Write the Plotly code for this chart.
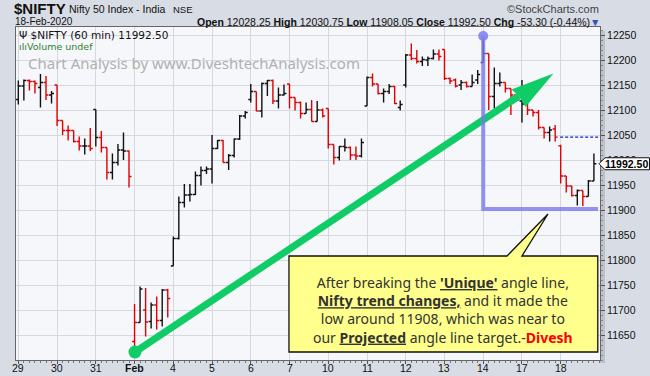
import plotly.graph_objects as go

# ---------------- data (60-min bars, 7 per session) ----------------
days = ['29', '30', '31', 'Feb', '4', '5', '6', '7', '10', '11', '12', '13', '14', '17', '18']
bars_per_day = 7

opens = [12121, 12148, 12159, 12157, 12145, 12155, 12130,
         12150, 12079, 12059, 12059, 12037, 12028, 12028,
         12101, 12045, 12025, 11975, 11995, 12020, 12018,
         11637, 11675, 11700, 11677, 11710, 11679, 11740,
         11788, 11843, 11915, 11930, 11931, 11969, 11979,
         11982, 12023, 12039, 11995, 12009, 12042, 12088,
         12121, 12137, 12098, 12153, 12159, 12118, 12130,
         12152, 12125, 12115, 12093, 12101, 12077, 12100,
         12103, 12031, 12005, 12027, 12025, 12010, 12008,
         12108, 12165, 12152, 12133, 12137, 12147, 12105,
         12150, 12210, 12203, 12197, 12200, 12203, 12212,
         12221, 12163, 12160, 12150, 12155, 12147, 12160,
         12195, 12213, 12127, 12153, 12155, 12143, 12130,
         12118, 12117, 12100, 12095, 12065, 12055, 12062,
         12028.25, 11968, 11948, 11929, 11939, 11927, 11958]
highs = [12159, 12161, 12161, 12159, 12172, 12168, 12138,
         12150, 12079, 12069, 12059, 12047, 12043, 12064,
         12101, 12058, 12025, 12013, 12032, 12055, 12019,
         11712, 11747, 11744, 11715, 11727, 11742, 11742,
         11847, 11927, 11952, 11952, 11977, 11987, 11987,
         12050, 12040, 12040, 12012, 12043, 12090, 12098,
         12152, 12137, 12155, 12160, 12161, 12145, 12151,
         12152, 12125, 12117, 12115, 12120, 12118, 12103,
         12103, 12031, 12028, 12043, 12027, 12027, 12043,
         12167, 12173, 12152, 12143, 12152, 12148, 12119,
         12212, 12233, 12220, 12207, 12207, 12221, 12221,
         12221, 12165, 12163, 12160, 12157, 12171, 12180,
         12247, 12213, 12185, 12175, 12155, 12143, 12133,
         12160, 12117, 12100, 12100, 12065, 12067, 12070,
         12030.75, 11968, 11948, 11941, 11939, 11960, 12013]
lows = [12111, 12119, 12139, 12133, 12105, 12120, 12113,
        12068, 12050, 12039, 12035, 12019, 12011, 12018,
        12027, 12015, 11961, 11961, 11989, 12000, 11945,
        11622, 11675, 11647, 11663, 11661, 11667, 11685,
        11788, 11841, 11905, 11917, 11930, 11949, 11972,
        11953, 12022, 11995, 11980, 12005, 12040, 12083,
        12115, 12098, 12085, 12128, 12112, 12103, 12129,
        12103, 12099, 12083, 12093, 12077, 12077, 12085,
        12023, 11991, 11999, 12017, 12000, 12000, 12005,
        12108, 12147, 12131, 12115, 12132, 12112, 12099,
        12145, 12200, 12193, 12188, 12188, 12201, 12199,
        12160, 12152, 12145, 12140, 12145, 12147, 12152,
        12195, 12100, 12103, 12147, 12135, 12090, 12117,
        12075, 12090, 12087, 12061, 12043, 12037, 12037,
        11953, 11935, 11927, 11909, 11908.05, 11927, 11958]
closes = [12148, 12159, 12157, 12153, 12155, 12130, 12133,
          12079, 12059, 12059, 12037, 12028, 12028, 12023,
          12045, 12025, 11975, 11995, 12020, 12018, 11967,
          11675, 11742, 11676, 11710, 11679, 11740, 11723,
          11843, 11915, 11930, 11931, 11969, 11979, 11982,
          12023, 12039, 11995, 12009, 12042, 12088, 12095,
          12137, 12098, 12153, 12159, 12118, 12130, 12133,
          12125, 12115, 12093, 12101, 12077, 12100, 12088,
          12031, 12005, 12027, 12025, 12010, 12008, 12035,
          12165, 12152, 12133, 12137, 12147, 12113, 12111,
          12210, 12203, 12197, 12201, 12203, 12212, 12207,
          12163, 12158, 12148, 12155, 12147, 12155, 12171,
          12213, 12127, 12153, 12155, 12143, 12130, 12120,
          12112, 12100, 12095, 12065, 12055, 12060, 12045.8,
          11968, 11948, 11929, 11939, 11927, 11958, 11992.5]
bar_colors = list("kkrrkrk" "rrrrrkr" "krrkkkr" "rkrkrkr" "kkkkkkk" "kkrkkkk"
                  "krkkrkk" "rrrkrkr" "rrkkrrk" "krrkkrk" "krrkkkr" "rrrkrkk"
                  "krkkrrr" "krrrrkr" "rrrkrkk")

y_ticks = [11650, 11700, 11750, 11800, 11850, 11900, 11950,
           12000, 12050, 12100, 12150, 12200, 12250]

prev_close = 12045.8
last_close = 11992.5
high_level = 12248
target_level = 11902

# annotation geometry in chart units (bar index, price)
arrow_start = (21.08, 11616)
arrow_notch = (90.46, 12128)
arrow_tip = (96.69, 12173)
arrow_barb1 = (89.1, 12141)
arrow_barb2 = (91.63, 12106)
box_x0, box_x1, box_y0, box_y1 = 48.9, 104.7, 11616, 11808
wedge = [(88.3, 11808), (95.7, 11892), (91.0, 11808)]

# ---------------- figure ----------------
W, H = 650, 376
PL, PR, PT, PB = 16, 600, 27, 360
X0, X1 = -0.42, 105.1
Y0, Y1 = 12250 - 2 * (PB - 35), 12250 - 2 * (PT - 35)


def fx(px):
    return (px - PL) / (PR - PL)


def fy(py):
    return (PB - py) / (PB - PT)


fig = go.Figure()
xs = list(range(len(opens)))
for key, col in (('k', '#111111'), ('r', '#e00000')):
    ids = [i for i, c in enumerate(bar_colors) if c == key]
    fig.add_trace(go.Ohlc(
        x=[xs[i] for i in ids], open=[opens[i] for i in ids], high=[highs[i] for i in ids],
        low=[lows[i] for i in ids], close=[closes[i] for i in ids],
        increasing=dict(line=dict(color=col, width=1.4)),
        decreasing=dict(line=dict(color=col, width=1.4)),
        tickwidth=0.45, hoverinfo='skip', showlegend=False))

# previous close dotted line
fig.add_trace(go.Scatter(x=[bars_per_day * 14 - 0.1, X1], y=[prev_close, prev_close], mode='lines',
                         line=dict(color='#1020d0', width=1.2, dash='3px,2px'),
                         hoverinfo='skip', showlegend=False))

# green arrow shaft + start dot
fig.add_trace(go.Scatter(x=[arrow_start[0], arrow_notch[0]], y=[arrow_start[1], arrow_notch[1]],
                         mode='lines', line=dict(color='#10cc66', width=7),
                         hoverinfo='skip', showlegend=False))
fig.add_trace(go.Scatter(x=[arrow_start[0]], y=[arrow_start[1]], mode='markers', cliponaxis=False,
                         marker=dict(color='#10cc66', size=13), hoverinfo='skip', showlegend=False))

# blue projection line
fig.add_trace(go.Scatter(x=[84, 84, 104.75], y=[high_level, target_level, target_level], mode='lines',
                         line=dict(color='rgba(120,120,240,0.8)', width=4),
                         hoverinfo='skip', showlegend=False))
fig.add_trace(go.Scatter(x=[84], y=[high_level], mode='markers', cliponaxis=False,
                         marker=dict(color='rgba(130,130,240,0.9)', size=10),
                         hoverinfo='skip', showlegend=False))

shapes = []
# arrow head
shapes.append(dict(type='path', xref='x', yref='y', layer='above',
                   path='M %f,%f L %f,%f L %f,%f L %f,%f Z' % (
                       arrow_tip[0], arrow_tip[1], arrow_barb1[0], arrow_barb1[1],
                       arrow_notch[0], arrow_notch[1], arrow_barb2[0], arrow_barb2[1]),
                   fillcolor='#10cc66', line=dict(width=0)))
# callout box with pointer
shapes.append(dict(type='path', xref='x', yref='y', layer='above',
                   path='M %f,%f L %f,%f L %f,%f L %f,%f L %f,%f L %f,%f L %f,%f Z' % (
                       box_x0, box_y0, box_x0, box_y1, wedge[0][0], wedge[0][1],
                       wedge[1][0], wedge[1][1], wedge[2][0], wedge[2][1],
                       box_x1, box_y1, box_x1, box_y0),
                   fillcolor='#ffff8c', line=dict(color='#111111', width=1.3)))
# plot shadow on the right side (outside plot area)
shapes.append(dict(type='rect', xref='paper', yref='paper', layer='below',
                   x0=fx(PR), x1=fx(PR + 5), y0=fy(PB + 3), y1=fy(PT + 4),
                   fillcolor='#bcc1ca', line=dict(width=0)))
# last price tag
ty = 35 + (12250 - last_close) / 2
shapes.append(dict(type='path', xref='paper', yref='paper', layer='above',
                   path='M %f,%f L %f,%f L %f,%f L %f,%f L %f,%f Z' % (
                       fx(599), fy(ty), fx(605), fy(ty - 6), fx(649.5), fy(ty - 6),
                       fx(649.5), fy(ty + 6), fx(605), fy(ty + 6)),
                   fillcolor='white', line=dict(color='#111', width=1)))

HEAD = 'Liberation Sans, Arial, sans-serif'
anns = []


def ann(text, px, py, size, color='#111', xanchor='left', family=HEAD, **kw):
    anns.append(dict(text=text, x=fx(px), y=fy(py), xref='paper', yref='paper',
                     xanchor=xanchor, yanchor='middle', showarrow=False, borderpad=0,
                     font=dict(size=size, color=color, family=family), **kw))


ann('<b>$NIFTY</b>', 13, 8.5, 15)
ann('Nifty 50 Index - India', 68, 9, 10.5)
ann('NSE', 172, 9, 9.5)
ann('©StockCharts.com', 600, 9, 11, color='#444', xanchor='right')
ann('18-Feb-2020', 14, 21.5, 10)
ann('<b>Open</b> 12028.25 <b>High</b> 12030.75 <b>Low</b> 11908.05 <b>Close</b> 11992.50 '
    '<b>Chg</b> -53.30 (-0.44%)<span style="color:#3355bb">▼</span>', 601, 21.5, 10.5, xanchor='right')

ann('Ψ $NIFTY (60 min) 11992.50', 18, 35, 10.5, family='DejaVu Sans, sans-serif')
ann('<span style="color:#2f7f2f">ılı</span>Volume undef', 18, 46, 9.5, color='#2f7f2f',
    family='DejaVu Sans, sans-serif')
ann('Chart Analysis by www.DiveshtechAnalysis.com', 27, 63, 15, color='#b0b0b0',
    family='Noto Sans, Open Sans, sans-serif')

ann('<b>%.2f</b>' % last_close, 648.5, ty, 10.5, color='#000', xanchor='right')

# x-axis day labels as text under the plot
for d, lab in enumerate(days):
    anns.append(dict(text='<b>%s</b>' % lab if lab == 'Feb' else lab,
                     x=d * bars_per_day, y=fy(368), xref='x', yref='paper',
                     xanchor='center', yanchor='middle', showarrow=False, borderpad=0,
                     font=dict(size=10.5, color='#111', family='Liberation Sans, Arial, sans-serif')))

anns.append(dict(
    text=("After breaking the <b><u>'Unique'</u></b> angle line,<br>"
          "<b><u>Nifty trend changes,</u></b> and it made the<br>"
          "low around 11908, which was near to<br>"
          "our <b><u>Projected</u></b> angle line target.-<b><span style='color:#ff0000'>Divesh</span></b>"),
    x=76.7, y=11700.6, xref='x', yref='y', showarrow=False, align='center',
    xanchor='center', yanchor='middle',
    font=dict(size=14, color='#333333', family='Noto Sans, sans-serif')))

fig.update_layout(
    width=W, height=H, margin=dict(l=PL, r=W - PR, t=PT, b=H - PB),
    paper_bgcolor='#d8dce4', plot_bgcolor='#f6f7fb',
    showlegend=False, shapes=shapes, annotations=anns,
    xaxis=dict(range=[X0, X1], rangeslider=dict(visible=False),
               tickvals=[d * bars_per_day for d in range(len(days))],
               showticklabels=False,
               showgrid=True, gridcolor='#d6d8de', gridwidth=1,
               ticks='outside', ticklen=3, tickcolor='#555',
               minor=dict(ticks='outside', ticklen=2, dtick=1, tick0=0, tickcolor='#777', showgrid=False),
               showline=True, linecolor='#666', mirror=True, zeroline=False,
               automargin=False, fixedrange=True),
    yaxis=dict(range=[Y0, Y1], side='right', tickvals=y_ticks, tickformat='d',
               showgrid=True, gridcolor='#d6d8de', gridwidth=1,
               ticks='outside', ticklen=4, tickcolor='#555',
               minor=dict(ticks='outside', ticklen=2, dtick=10, tick0=0, tickcolor='#888', showgrid=False),
               showline=True, linecolor='#666', mirror=True, zeroline=False,
               tickfont=dict(size=10.5, color='#111', family='Liberation Sans, Arial, sans-serif'),
               automargin=False, fixedrange=True),
)

fig.write_html('out.html', config=dict(displayModeBar=False),
               post_script="document.body.style.margin='0';document.body.style.overflow='hidden';")
